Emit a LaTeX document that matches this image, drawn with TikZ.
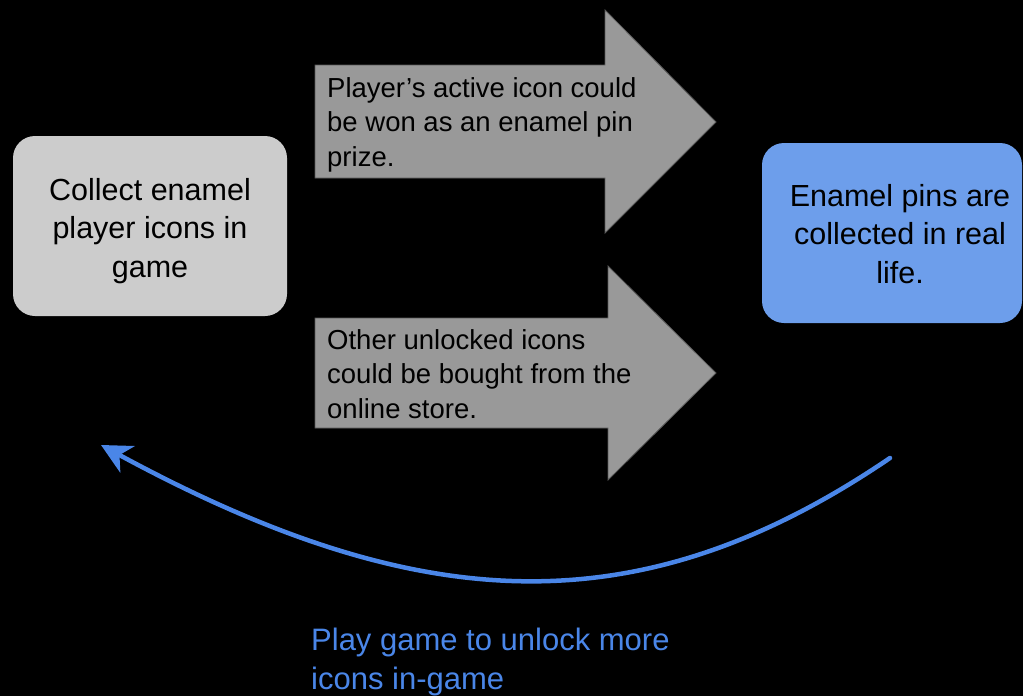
\documentclass[tikz,border=0pt]{standalone}
\usepackage{fontspec}
\setmainfont{Liberation Sans}
\usetikzlibrary{arrows.meta}
\definecolor{boxgrey}{HTML}{CCCCCC}
\definecolor{arrgrey}{HTML}{999999}
\definecolor{arredge}{HTML}{5A5A5A}
\definecolor{boxblue}{HTML}{6D9EEB}
\definecolor{lineblue}{HTML}{4A86E8}
\tikzset{
  roundbox/.style={rounded corners=22pt, inner sep=0pt},
  bigtext/.style={font=\fontsize{30.5}{38.5}\selectfont, align=center, inner sep=0pt},
  arrtext/.style={font=\fontsize{27.5}{34.5}\selectfont, align=left, anchor=north west, inner sep=0pt},
  fatarrow/.style={fill=arrgrey, draw=arredge, line width=0.8pt},
  loopline/.style={draw=lineblue, line width=4.5pt, line cap=round,
    -{Stealth[length=30pt,width=30pt,inset=9pt]}},
}
\begin{document}
\begin{tikzpicture}[x=1pt,y=-1pt]
\fill[black] (0,0) rectangle (1023,696);
\useasboundingbox (0,0) rectangle (1023,696);

% left box
\node[roundbox, fill=boxgrey, minimum width=274pt, minimum height=180pt] (collect) at (150,226) {};
\node[bigtext] (collecttext) at (150,231) {Collect enamel\\player icons in\\game};

% right box
\node[roundbox, fill=boxblue, minimum width=260pt, minimum height=180pt] (pins) at (892,233) {};
\node[bigtext] (pinstext) at (900,234) {Enamel pins are\\collected in real\\life.};

% upper fat arrow
\coordinate (a1) at (315,65);
\draw[fatarrow] (a1) -- (605,65) -- (605,10) -- (716,122) -- (605,233) -- (605,178) -- (315,178) -- cycle;
\node[arrtext] (won) at (327,77) {Player’s active icon could\\be won as an enamel pin\\prize.};

% lower fat arrow
\coordinate (a2) at (315,318);
\draw[fatarrow] (a2) -- (608,318) -- (608,266) -- (716,373) -- (608,480) -- (608,428) -- (315,428) -- cycle;
\node[arrtext] (bought) at (327,329) {Other unlocked icons\\could be bought from the\\online store.};

% return curve
\coordinate (cstart) at (890,458);
\coordinate (cend) at (101,445);
\draw[loopline] (cstart) .. controls (640,628) and (420,618) .. (cend);

\node[font=\fontsize{31}{39}\selectfont, text=lineblue, align=left, anchor=north west, inner sep=0pt] (play) at (311,628) {Play game to unlock more\\icons in-game};
\end{tikzpicture}
\end{document}
